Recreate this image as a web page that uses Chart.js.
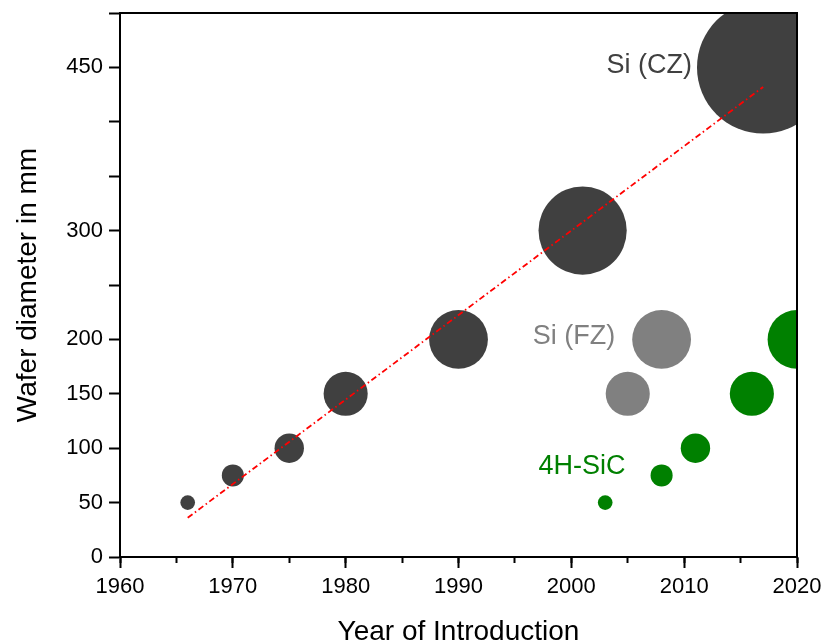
<!DOCTYPE html>
<html>
<head>
<meta charset="utf-8">
<script src="https://cdn.jsdelivr.net/npm/chart.js@4/dist/chart.umd.min.js"></script>
<style>
	body { margin: 0; background: #fff; }
	#wrap { width: 823px; height: 644px; }
</style>
</head>
<body>
<div id="wrap"><canvas id="wafers"></canvas></div>
<script>
// Si (CZ)
var czYears = [1966, 1970, 1975, 1980, 1990, 2001, 2017];
var czDiameter = [50, 75, 100, 150, 200, 300, 450];
// Si (FZ)
var fzYears = [2005, 2008];
var fzDiameter = [150, 200];
// 4H-SiC
var sicYears = [2003, 2008, 2011, 2016, 2020];
var sicDiameter = [50, 75, 100, 150, 200];
// red trend line (two ends)
var trendYears = [1966, 2017];
var trendDiameter = [36, 432];

var yLabelled = [0, 50, 100, 150, 200, 300, 450];
var labelTexts = ["Si (CZ)", "Si (FZ)", "4H-SiC"];
var labelYears = [2010.7, 2003.9, 2004.8];
var labelDiameter = [452, 203, 83];
var labelColors = ["#404040", "#808080", "#008000"];

var FONT = "'Liberation Sans', Arial, sans-serif";
var SIZE_PER_MM = 0.147; // bubble radius in px for each mm of diameter

function bubbles(years, diam) {
	return years.map(function(x, i) {
		return { x: x, y: diam[i], r: diam[i] * SIZE_PER_MM };
	});
}

// top and right border of the plot box
var frame = {
	id: "frame",
	afterDraw: function(chart) {
		var a = chart.chartArea, ctx = chart.ctx;
		ctx.save();
		ctx.strokeStyle = "#000";
		ctx.lineWidth = 2;
		ctx.beginPath();
		ctx.moveTo(a.left, a.top);
		ctx.lineTo(a.right, a.top);
		ctx.lineTo(a.right, a.bottom);
		ctx.stroke();
		ctx.restore();
	}
};

var seriesLabels = {
	id: "seriesLabels",
	afterDatasetsDraw: function(chart) {
		var ctx = chart.ctx, xs = chart.scales.x, ys = chart.scales.y;
		ctx.save();
		ctx.font = "27px " + FONT;
		ctx.textAlign = "right";
		ctx.textBaseline = "middle";
		labelTexts.forEach(function(t, i) {
			ctx.fillStyle = labelColors[i];
			ctx.fillText(t, xs.getPixelForValue(labelYears[i]), ys.getPixelForValue(labelDiameter[i]));
		});
		ctx.restore();
	}
};

new Chart(document.getElementById("wafers").getContext("2d"), {
	type: "bubble",
	data: {
		datasets: [{
			type: "line",
			data: trendYears.map(function(x, i) { return { x: x, y: trendDiameter[i] }; }),
			borderColor: "#ff0000",
			borderWidth: 1.8,
			borderDash: [6, 3, 1.5, 3],
			pointRadius: 0,
			fill: false
		}, {
			data: bubbles(czYears, czDiameter),
			backgroundColor: "#404040",
			borderWidth: 0
		}, {
			data: bubbles(fzYears, fzDiameter),
			backgroundColor: "#808080",
			borderWidth: 0
		}, {
			data: bubbles(sicYears, sicDiameter),
			backgroundColor: "#008000",
			borderWidth: 0
		}]
	},
	options: {
		responsive: true,
		maintainAspectRatio: false,
		animation: false,
		events: [],
		layout: { autoPadding: false, padding: { top: 13, right: 26, left: 0, bottom: 0 } },
		plugins: { legend: { display: false }, tooltip: { enabled: false } },
		scales: {
			x: {
				type: "linear",
				min: 1960,
				max: 2020,
				afterFit: function(s) { s.height = 87; s.paddingLeft = 0; s.paddingRight = 0; },
				ticks: {
					stepSize: 10,
					autoSkip: false,
					maxRotation: 0,
					padding: 6,
					color: "#000",
					font: { family: FONT, size: 22 },
					callback: function(v) { return String(v); }
				},
				grid: { drawOnChartArea: false, tickLength: 11, tickWidth: 2, tickColor: "#000" },
				border: { color: "#000", width: 2 },
				title: {
					display: true,
					text: "Year of Introduction",
					color: "#000",
					font: { family: FONT, size: 28, lineHeight: 1 },
					padding: { top: 0, bottom: -2 }
				}
			},
			xMinor: {
				type: "linear",
				axis: "x",
				position: { y: 0 },
				min: 1960,
				max: 2020,
				ticks: { stepSize: 5, display: false, autoSkip: false },
				grid: { drawOnChartArea: false, tickLength: 6, tickWidth: 2, tickColor: "#000" },
				border: { display: false }
			},
			y: {
				min: 0,
				max: 500,
				afterFit: function(s) { s.width = 120; s.paddingTop = 0; s.paddingBottom = 0; },
				ticks: {
					stepSize: 50,
					autoSkip: false,
					padding: 6,
					color: "#000",
					font: { family: FONT, size: 22 },
					callback: function(v) { return yLabelled.indexOf(v) >= 0 ? String(v) : ""; }
				},
				grid: { drawOnChartArea: false, tickLength: 11, tickWidth: 2, tickColor: "#000" },
				border: { color: "#000", width: 2 },
				title: {
					display: true,
					text: "Wafer diameter in mm",
					color: "#000",
					font: { family: FONT, size: 28, lineHeight: 1 },
					padding: { top: 14, bottom: 0 }
				}
			}
		}
	},
	plugins: [frame, seriesLabels]
});
</script>
</body>
</html>
